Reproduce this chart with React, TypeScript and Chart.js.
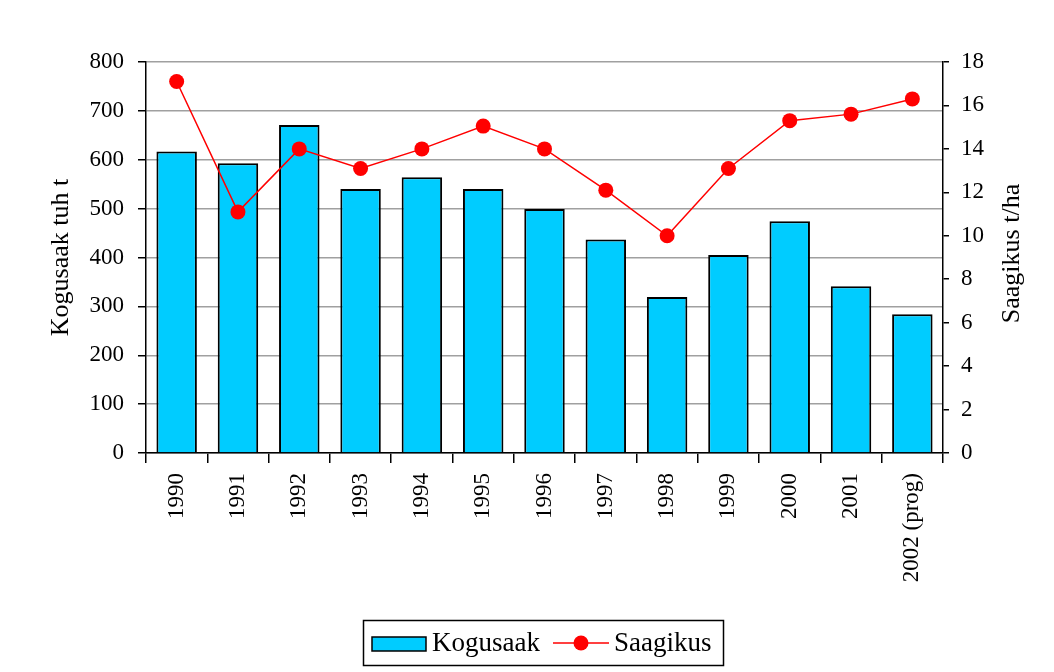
import React, { useEffect, useRef } from "react";
import { Chart, registerables } from "chart.js";

Chart.register(...registerables);

const categories = ["1990", "1991", "1992", "1993", "1994", "1995", "1996", "1997", "1998", "1999", "2000", "2001", "2002 (prog)"];
const kogusaak = [617, 593, 671, 540, 564, 540, 499, 437, 319, 405, 474, 341, 284];
const saagikus = [17.1, 11.1, 14.0, 13.1, 14.0, 15.05, 14.0, 12.1, 10.0, 13.1, 15.3, 15.6, 16.3];
const leftTitle = "Kogusaak tuh t";
const rightTitle = "Saagikus t/ha";
const barLabel = "Kogusaak";
const lineLabel = "Saagikus";

const FONT = "'Liberation Serif', 'Times New Roman', serif";

const decorPlugin = {
  id: "decor",
  afterDraw(chart: any) {
    const ctx = chart.ctx;
    const area = chart.chartArea;
    const cy = (area.top + area.bottom) / 2;
    ctx.save();
    ctx.fillStyle = "#000";
    ctx.font = `26px ${FONT}`;
    ctx.textAlign = "center";
    ctx.textBaseline = "middle";
    // left title
    ctx.save();
    ctx.translate(61, cy);
    ctx.rotate(-Math.PI / 2);
    ctx.fillText(leftTitle, 0, 0);
    ctx.restore();
    // right title
    ctx.save();
    ctx.translate(1012, cy - 4);
    ctx.rotate(-Math.PI / 2);
    ctx.fillText(rightTitle, 0, 0);
    ctx.restore();

    // legend
    ctx.lineWidth = 1.5;
    ctx.strokeStyle = "#000";
    ctx.strokeRect(363.5, 620.5, 360, 45);
    ctx.fillStyle = "#00CCFF";
    ctx.fillRect(372, 637, 54, 14);
    ctx.strokeRect(372, 637, 54, 14);
    ctx.fillStyle = "#000";
    ctx.textAlign = "left";
    ctx.font = `27px ${FONT}`;
    ctx.fillText(barLabel, 432, 644);
    ctx.strokeStyle = "#FF0000";
    ctx.beginPath();
    ctx.moveTo(553, 643);
    ctx.lineTo(609, 643);
    ctx.stroke();
    ctx.fillStyle = "#FF0000";
    ctx.beginPath();
    ctx.arc(581, 643, 7.5, 0, Math.PI * 2);
    ctx.fill();
    ctx.fillStyle = "#000";
    ctx.fillText(lineLabel, 614, 644);
    ctx.restore();
  },
};

export default function App() {
  const ref = useRef<HTMLCanvasElement | null>(null);
  useEffect(() => {
    if (!ref.current) return;
    const chart = new Chart(ref.current, {
      type: "bar",
      data: {
        labels: categories,
        datasets: [
          {
            type: "line",
            label: lineLabel,
            data: saagikus,
            yAxisID: "y1",
            borderColor: "#FF0000",
            borderWidth: 1.5,
            backgroundColor: "#FF0000",
            pointRadius: 7.5,
            pointBorderWidth: 0,
            pointBackgroundColor: "#FF0000",
            tension: 0,
            order: 1,
          } as any,
          {
            type: "bar",
            label: barLabel,
            data: kogusaak,
            yAxisID: "y",
            backgroundColor: "#00CCFF",
            borderColor: "#000000",
            borderWidth: 2,
            barPercentage: 0.66,
            categoryPercentage: 1,
            order: 2,
          },
        ],
      },
      options: {
        responsive: false,
        animation: false,
        layout: { padding: { top: 62, left: 0, right: 0, bottom: 0 } },
        plugins: {
          legend: { display: false },
          tooltip: { enabled: false },
        },
        scales: {
          x: {
            offset: true,
            grid: {
              display: true,
              offset: true,
              drawOnChartArea: false,
              tickLength: 10,
              color: "#000",
              lineWidth: 1.5,
            },
            border: { display: true, color: "#000", width: 1.5 },
            ticks: {
              color: "#000",
              font: { family: FONT, size: 23 },
              maxRotation: 90,
              minRotation: 90,
              padding: 10,
              autoSkip: false,
            },
            afterFit: (s: any) => {
              s.height = 672 - 453;
            },
          },
          y: {
            position: "left",
            min: 0,
            max: 800,
            ticks: {
              stepSize: 100,
              color: "#000",
              font: { family: FONT, size: 23 },
              padding: 14,
            },
            grid: {
              color: "#a0a0a0",
              lineWidth: 1.5,
              tickColor: "#000",
              tickLength: 8,
            },
            border: { display: true, color: "#000", width: 1.5 },
            afterFit: (s: any) => {
              s.width = 146;
            },
          },
          y1: {
            position: "right",
            min: 0,
            max: 18,
            ticks: {
              stepSize: 2,
              color: "#000",
              font: { family: FONT, size: 23 },
              padding: 12,
            },
            grid: {
              drawOnChartArea: false,
              tickColor: "#000",
              tickLength: 6,
              lineWidth: 1.5,
            },
            border: { display: true, color: "#000", width: 1.5 },
            afterFit: (s: any) => {
              s.width = 1054 - 943;
            },
          },
        },
      },
      plugins: [decorPlugin],
    });
    return () => chart.destroy();
  }, []);
  return (
    <div style={{ position: "fixed", left: 0, top: 0, width: 1054, height: 672, background: "#fff" }}>
      <canvas ref={ref} width={1054} height={672} style={{ display: "block" }} />
    </div>
  );
}
